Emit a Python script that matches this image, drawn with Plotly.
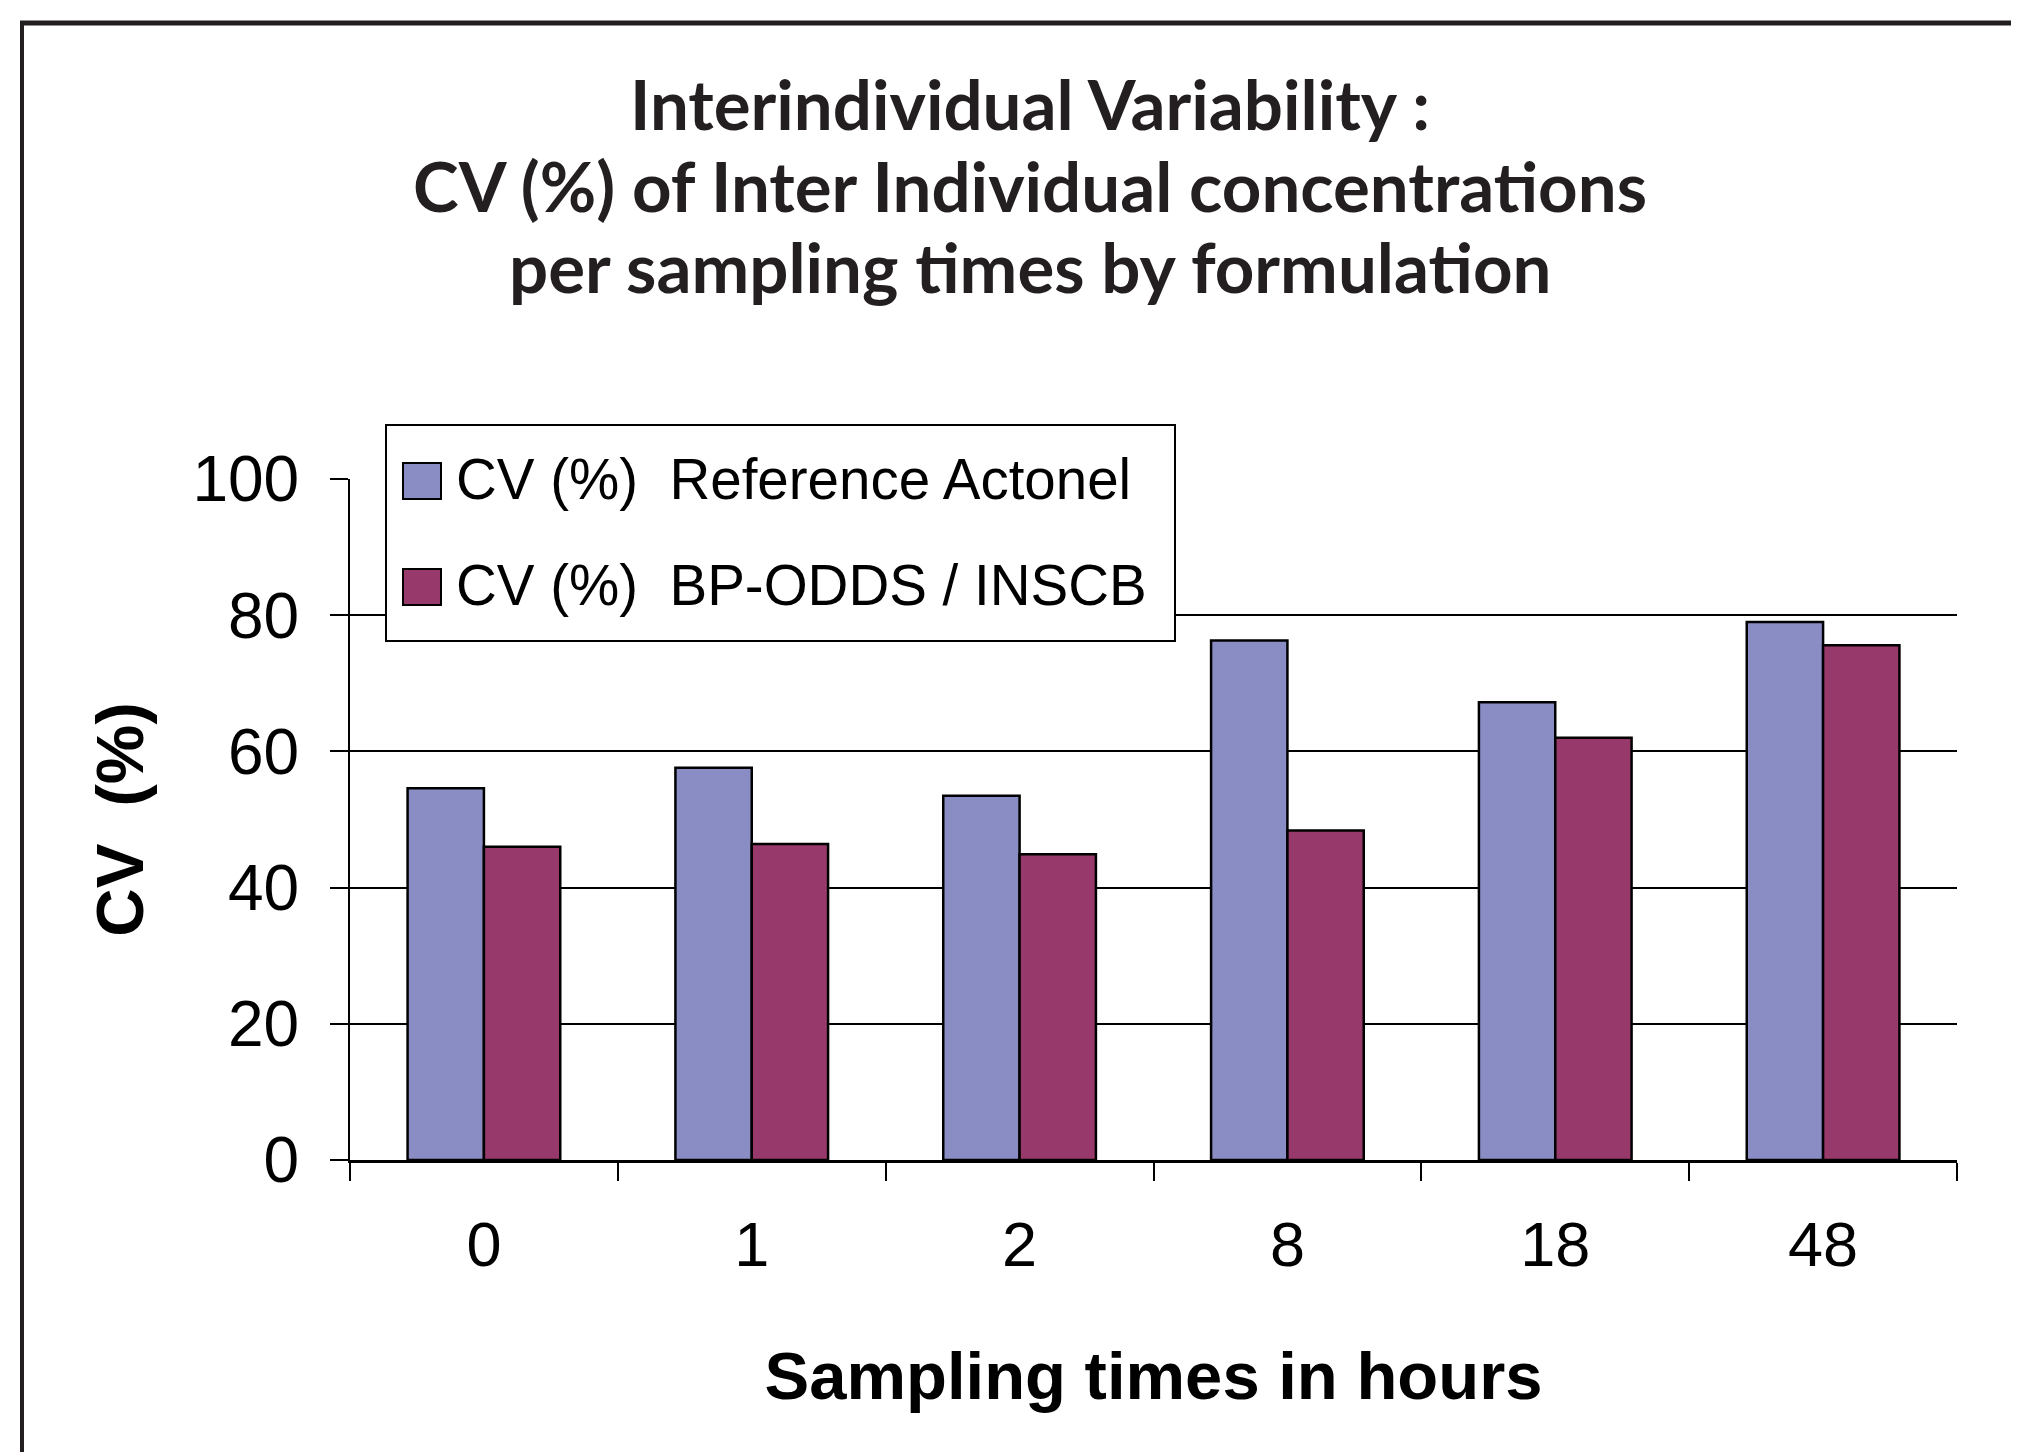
import plotly.graph_objects as go

# ---- data ----
times = ["0", "1", "2", "8", "18", "48"]
cv_reference = [54.6, 57.6, 53.5, 76.3, 67.2, 79.0]
cv_bp_odds = [46.0, 46.4, 44.9, 48.4, 62.0, 75.6]
series_names = ["CV (%)\u00a0\u00a0Reference Actonel", "CV (%)\u00a0\u00a0BP-ODDS / INSCB"]
series_colors = ["#8A8CC4", "#973A6B"]
y_ticks = [0, 20, 40, 60, 80, 100]
title_lines = [
    "Interindividual Variability :",
    "CV (%) of Inter Individual concentrations",
    "per sampling times by formulation",
]

# ---- layout geometry (page pixels; page has an 8px body margin) ----
OFF = 8
W, H = 2019 - OFF, 1452 - OFF
PL, PR, PT, PB = 350, 1957, 479, 1160  # plot area in page pixels
PW, PH = PR - PL, PB - PT
L, T = PL - OFF, PT - OFF
R, B = W - (PR - OFF), H - (PB - OFF)


def px(x):
    return (x - PL) / PW


def py(y):
    return (PB - y) / PH


fig = go.Figure()
for name, vals, col in zip(series_names, [cv_reference, cv_bp_odds], series_colors):
    fig.add_trace(go.Bar(
        x=times, y=vals, name=name, showlegend=False,
        marker=dict(color=col, line=dict(color="black", width=2.5)),
    ))

shapes = []
annotations = []
# outer frame (top and left edges)
shapes.append(dict(type="line", xref="paper", yref="paper", x0=px(20), x1=px(2100),
                   y0=py(23), y1=py(23), line=dict(color="#231f20", width=5), layer="above"))
shapes.append(dict(type="line", xref="paper", yref="paper", x0=px(22), x1=px(22),
                   y0=py(21), y1=py(1500), line=dict(color="#231f20", width=4), layer="above"))

# title lines
for line, ym in zip(title_lines, [104, 185, 266]):
    annotations.append(dict(xref="paper", yref="paper", x=px(1030), y=py(ym),
                            xanchor="center", yanchor="middle", showarrow=False, text=line,
                            font=dict(family="Lato", size=69, color="#231f20", weight="bold")))

# legend box
shapes.append(dict(type="rect", xref="paper", yref="paper", x0=px(386), x1=px(1175),
                   y0=py(641), y1=py(425), fillcolor="white",
                   line=dict(color="black", width=2), layer="above"))
row_centers = [481, 587]
for name, col, yc in zip(series_names, series_colors, row_centers):
    shapes.append(dict(type="rect", xref="paper", yref="paper", x0=px(403), x1=px(441),
                       y0=py(yc + 18), y1=py(yc - 18), fillcolor=col,
                       line=dict(color="black", width=2), layer="above"))
    annotations.append(dict(xref="paper", yref="paper", x=px(454), y=py(yc - 2),
                            xanchor="left", yanchor="middle", showarrow=False, text=name,
                            font=dict(family="Liberation Sans", size=56.5, color="black")))

fig.update_layout(
    width=W, height=H,
    margin=dict(l=L, r=R, t=T, b=B, autoexpand=False),
    paper_bgcolor="white", plot_bgcolor="white",
    barmode="group", bargap=0.43, bargroupgap=0,
    xaxis=dict(
        type="category", tickson="boundaries", ticks="outside", ticklen=18, tickwidth=2,
        tickcolor="black", showline=True, linecolor="black", linewidth=3, showgrid=False,
        tickfont=dict(family="Liberation Sans", size=63, color="black"),
        ticklabelstandoff=27,
        title=dict(text="Sampling times in hours", standoff=75,
                   font=dict(family="Liberation Sans", size=67, color="black", weight="bold")),
    ),
    yaxis=dict(
        range=[0, 100], tickvals=y_ticks, ticktext=[str(v) for v in y_ticks],
        ticks="outside", ticklen=18, tickwidth=2, tickcolor="black",
        showline=True, linecolor="black", linewidth=2,
        showgrid=True, gridcolor="black", gridwidth=2, zeroline=False,
        tickfont=dict(family="Liberation Sans", size=64, color="black"),
        ticklabelstandoff=18,
        title=dict(text="CV\u00a0\u00a0(%)", standoff=27,
                   font=dict(family="Liberation Sans", size=67, color="black", weight="bold")),
    ),
    shapes=shapes,
    annotations=annotations,
)

fig.write_html("out.html")
